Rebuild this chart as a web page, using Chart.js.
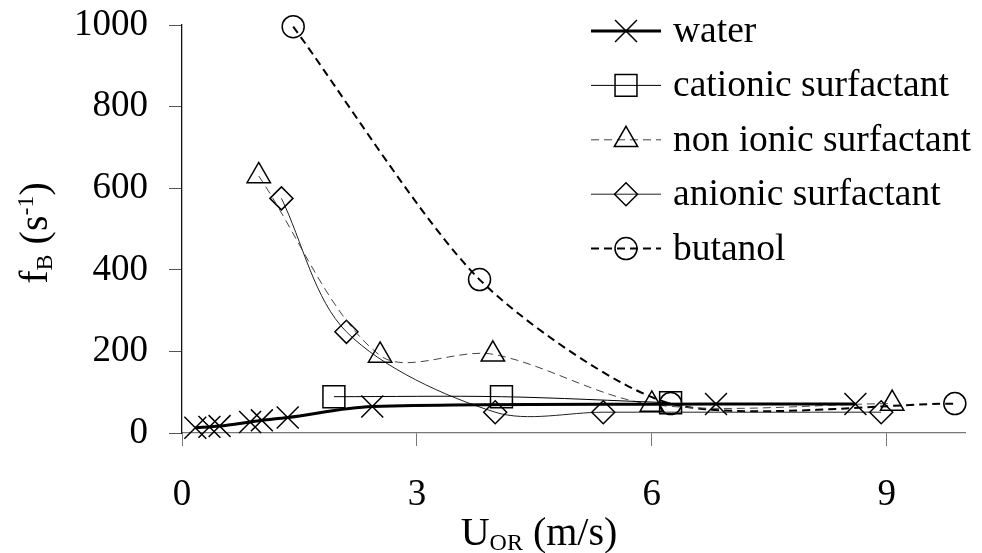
<!DOCTYPE html>
<html>
<head>
<meta charset="utf-8">
<title>f_B vs U_OR</title>
<script src="https://cdn.jsdelivr.net/npm/chart.js@4.4.1/dist/chart.umd.min.js"></script>
<style>
  html, body { margin: 0; padding: 0; background: #fff; }
  canvas { display: block; }
</style>
</head>
<body>
<canvas id="graficoFrecuencia" width="982" height="553"></canvas>
<script>
// valores (U_OR en m/s, f_B en 1/s)
const aguaX = [0.17, 0.35, 0.48, 0.87, 1.02, 1.35, 2.43, 6.82, 8.6]
const aguaY = [13, 15, 17, 27, 31, 38, 65, 71, 71]
const cationicoX = [1.94, 4.08, 6.24]
const cationicoY = [89, 89, 74]
const noIonicoX = [0.98, 2.53, 3.97, 6.0, 9.07]
const noIonicoY = [630, 190, 193, 70, 72]
const anionicoX = [1.27, 2.1, 4.0, 5.38, 8.93]
const anionicoY = [575, 248, 51, 51, 51]
const butanolX = [1.42, 3.8, 6.24, 9.87]
const butanolY = [996, 376, 72, 72]

const etiquetas = ["water", "cationic surfactant", "non ionic surfactant", "anionic surfactant", "butanol"]
const ticksX = [0, 3, 6, 9]
const ticksY = [0, 200, 400, 600, 800, 1000]

const fuente = '"Liberation Serif", "Times New Roman", serif'

const puntos = (xs, ys) => xs.map((x, i) => ({ x: x, y: ys[i] }))

// dibuja un texto con sub/superindices, centrado en x
const textoCompuesto = (ctx, partes, cx, y) => {
  let ancho = 0
  partes.forEach((p) => {
    ctx.font = p.size + 'px ' + fuente
    ancho += ctx.measureText(p.t).width
  })
  let x = cx - ancho / 2
  partes.forEach((p) => {
    ctx.font = p.size + 'px ' + fuente
    ctx.fillText(p.t, x, y + p.dy)
    x += ctx.measureText(p.t).width
  })
}

const titulos = {
  id: 'titulos',
  afterDraw(chart) {
    const ctx = chart.ctx
    ctx.save()
    ctx.fillStyle = '#000'
    ctx.textBaseline = 'alphabetic'
    textoCompuesto(ctx, [
      { t: 'U', size: 40, dy: 0 },
      { t: 'OR', size: 24, dy: 5 },
      { t: ' (m/s)', size: 40, dy: 0 }
    ], 539, 545)
    ctx.translate(47, 233)
    ctx.rotate(-Math.PI / 2)
    textoCompuesto(ctx, [
      { t: 'f', size: 40, dy: 0 },
      { t: 'B', size: 24, dy: 5 },
      { t: ' (s', size: 40, dy: 0 },
      { t: '-1', size: 24, dy: -14 },
      { t: ')', size: 40, dy: 0 }
    ], 0, 0)
    ctx.restore()
  }
}

const leyenda = {
  id: 'leyenda',
  afterDraw(chart) {
    const ctx = chart.ctx
    const x0 = chart.chartArea.right - 374
    chart.data.datasets.forEach((ds, i) => {
      const y = 31 + 54.4 * i
      ctx.save()
      ctx.strokeStyle = ds.borderColor
      ctx.lineWidth = ds.borderWidth
      ctx.setLineDash(ds.borderDash || [])
      ctx.beginPath()
      ctx.moveTo(x0, y)
      ctx.lineTo(x0 + 70, y)
      ctx.stroke()
      ctx.setLineDash([])
      ctx.strokeStyle = '#000'
      ctx.lineWidth = ds.pointBorderWidth
      ctx.fillStyle = 'rgba(0,0,0,0)'
      Chart.helpers.drawPoint(ctx, {
        pointStyle: ds.pointStyle,
        radius: ds.pointRadius,
        rotation: 0,
        borderWidth: ds.pointBorderWidth
      }, x0 + 35, y)
      ctx.fillStyle = '#000'
      ctx.font = '37.5px ' + fuente
      ctx.textBaseline = 'alphabetic'
      ctx.fillText(ds.label, x0 + 82, y + 11)
      ctx.restore()
    })
  }
}

const serie = (i, xs, ys, estilo) => Object.assign({
  label: etiquetas[i],
  data: puntos(xs, ys),
  borderColor: '#000',
  borderWidth: 1,
  pointBorderColor: '#000',
  pointBackgroundColor: 'rgba(0,0,0,0)',
  pointBorderWidth: 1.5,
  tension: 0.32,
  clip: false,
  fill: false
}, estilo)

const grafico = document.getElementById("graficoFrecuencia")

new Chart(grafico, {
  type: "line",
  data: {
    datasets: [
      serie(0, aguaX, aguaY, { borderWidth: 3, pointStyle: 'crossRot', pointRadius: 15.5 }),
      serie(1, cationicoX, cationicoY, { pointStyle: 'rect', pointRadius: 15.5 }),
      serie(2, noIonicoX, noIonicoY, { borderColor: '#444', borderDash: [8, 5], pointStyle: 'triangle', pointRadius: 13.5 }),
      serie(3, anionicoX, anionicoY, { borderColor: '#222', pointStyle: 'rectRot', pointRadius: 11.5 }),
      serie(4, butanolX, butanolY, { borderWidth: 2, borderDash: [8, 5], pointStyle: 'circle', pointRadius: 11, tension: 0.25 })
    ]
  },
  options: {
    responsive: false,
    devicePixelRatio: 1,
    animation: false,
    events: [],
    layout: { padding: { top: 25, right: 15, left: 0, bottom: 0 } },
    plugins: {
      legend: { display: false },
      tooltip: { enabled: false }
    },
    scales: {
      x: {
        type: "linear",
        min: 0,
        max: 10,
        afterBuildTicks: (scale) => { scale.ticks = ticksX.map((v) => ({ value: v })) },
        afterFit: (scale) => { scale.height = 120 },
        ticks: { color: '#000', padding: 27, maxRotation: 0, font: { family: fuente, size: 37 }, callback: (v) => String(v) },
        grid: { drawOnChartArea: false, drawTicks: true, tickLength: 13, color: '#777' },
        border: { color: '#777', width: 1.3 }
      },
      y: {
        min: 0,
        max: 1000,
        afterBuildTicks: (scale) => { scale.ticks = ticksY.map((v) => ({ value: v })) },
        afterFit: (scale) => {
          scale.width = 182
          scale.paddingTop = 0
          scale.paddingBottom = 0
        },
        ticks: { color: '#000', padding: 21, font: { family: fuente, size: 37 }, callback: (v) => String(v) },
        grid: { drawOnChartArea: false, drawTicks: true, tickLength: 13, color: '#555' },
        border: { color: '#111', width: 1.3 }
      }
    }
  },
  plugins: [titulos, leyenda]
})
</script>
</body>
</html>
